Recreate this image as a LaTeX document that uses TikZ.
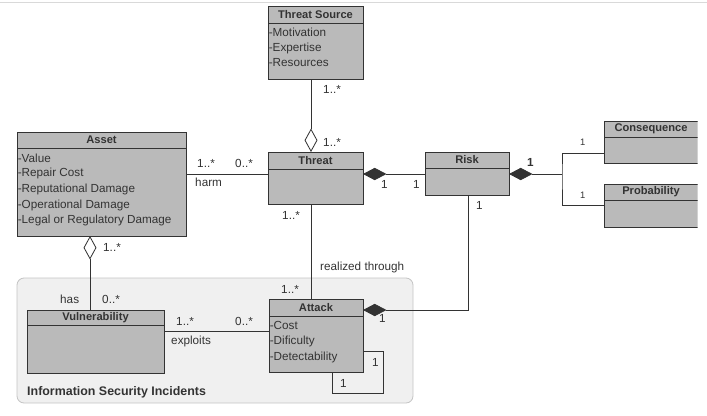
\documentclass[tikz,border=0pt]{standalone}
\usepackage{fontspec}
\setmainfont{Liberation Sans}
\usetikzlibrary{arrows.meta,fit}
\definecolor{umlink}{HTML}{333333}
\definecolor{umlfill}{HTML}{BABABA}
\definecolor{groupfill}{HTML}{F0F0F0}
\definecolor{groupline}{HTML}{C4C4C4}
\definecolor{frameline}{HTML}{D9D9D9}

\begin{document}
\begin{tikzpicture}[
  x=0.03cm,
  y=-0.03cm,
  every node/.style={font=\fontsize{10}{11}\selectfont, umlink},
  classbox/.style={draw=umlink, fill=umlfill, line width=0.6pt,
                   inner sep=0pt, outer sep=0pt},
  classline/.style={umlink, line width=0.6pt},
  classtitle/.style={font=\fontsize{9.5}{11}\selectfont\bfseries, inner sep=0pt},
  attr/.style={anchor=west, inner sep=0.5pt},
  mult/.style={anchor=west, inner sep=0pt},
  assoc/.style={umlink, line width=0.7pt},
  aggr/.style={assoc, -{Diamond[open, length=20pt, width=11pt]}},
  compo/.style={assoc, -{Diamond[length=20pt, width=10.5pt]}},
  groupbox/.style={draw=groupline, fill=groupfill, line width=0.7pt,
                   rounded corners=6pt, inner sep=0pt}
]
  \useasboundingbox (0,0) rectangle (707,415);
  \draw[frameline, line width=0.8pt] (0,2) -- (707,2);

  %% ---- 背景分組框 ------------------------------------------------------
  \node[groupbox, fit={(17,278) (413,403)}] (isi) {};
  \node[classtitle, anchor=west, font=\fontsize{10.6}{12}\selectfont\bfseries]
    (isi-t) at (27,392) {Information Security Incidents};

  %% ---- 各個類別方框 (右邊兩個在 x=697.6 處被裁掉) ----------------------
  \begin{scope}
    \clip (0,0) rectangle (697.6,415);
    \foreach \cname/\xa/\ya/\xb/\yb/\yh/\ctext in {
        src/268/6/363/79/23/Threat Source,
        asset/17/132/186/236/148/Asset,
        thr/268/152/363/204/169/Threat,
        risk/425/152/509/195/168/Risk,
        cons/604/121/698/163/137/Consequence,
        prob/604/184/698/227/200/Probability,
        vuln/27/310/164/373/325/Vulnerability,
        atk/269/299/363/372/316/Attack}
    {
      \node[classbox, fit={(\xa,\ya) (\xb,\yb)}] (\cname) {};
      \draw[classline] (\xa,\yh) -- (\xb,\yh);
      \node[classtitle] (\cname-t) at ({(\xa+\xb)/2},{(\ya+\yh)/2}) {\ctext};
    }
  \end{scope}

  %% ---- 屬性 ------------------------------------------------------------
  \foreach \y/\t [count=\i] in {32/Motivation, 48/Expertise, 63/Resources}
    \node[attr] (src-a\i) at (268,\y) {-\t};
  \foreach \y/\t [count=\i] in {158/Value, 173/Repair Cost,
      189/Reputational Damage, 205/Operational Damage,
      220/Legal or Regulatory Damage}
    \node[attr] (asset-a\i) at (17,\y) {-\t};
  \foreach \y/\t [count=\i] in {325/Cost, 341/Dificulty, 357/Detectability}
    \node[attr] (atk-a\i) at (269,\y) {-\t};

  %% ---- 連線 ------------------------------------------------------------
  \draw[aggr] (src.south -| 311,0) -- (thr.north -| 311,0);
  \draw[assoc] (asset.east |- 0,174) -- (thr.west |- 0,174);
  \draw[compo] (risk.west |- 0,174) -- (thr.east |- 0,174);

  \coordinate (fork) at (562,174);
  \draw[compo] (fork) -- (risk.east |- fork);
  \draw[assoc] (cons.west |- 0,153) -| (fork) |- (prob.west |- 0,205);

  \draw[aggr] (vuln.north -| 90,0) -- (asset.south -| 90,0);
  \draw[assoc] (vuln.east |- 0,331) -- (atk.west |- 0,331);
  \draw[assoc] (thr.south -| 311,0) -- (atk.north -| 311,0);
  \draw[compo] (risk.south -| 468,0) |- (atk.east |- 0,310);
  \draw[assoc] (atk.east |- 0,351) -| (383,393) -| (atk.south -| 332,0);

  %% ---- 多重性與角色標示 ------------------------------------------------
  \node[mult] (m-src1) at (323,89)  {1..*};
  \node[mult] (m-src2) at (323,142) {1..*};
  \node[mult] (m-harm1) at (197,163) {1..*};
  \node[mult] (m-harm2) at (235,163) {0..*};
  \node[mult] (l-harm) at (195,182) {harm};
  \node[mult] (m-tr1) at (381,184) {1};
  \node[mult] (m-tr2) at (413,184) {1};
  \node[mult] (m-thr) at (282,215) {1..*};
  \node[mult, font=\fontsize{10}{11}\selectfont\bfseries] (m-fork) at (527,162) {1};
  \node[mult, font=\fontsize{8}{9}\selectfont] (m-cons) at (580,142) {1};
  \node[mult, font=\fontsize{8}{9}\selectfont] (m-prob) at (580,195) {1};
  \node[mult] (m-risk) at (476,205) {1};
  \node[mult] (m-asset) at (103,247) {1..*};
  \node[mult] (l-has) at (60,299) {has};
  \node[mult] (m-vuln) at (102,299) {0..*};
  \node[mult] (m-ex1) at (176,321) {1..*};
  \node[mult] (m-ex2) at (235,321) {0..*};
  \node[mult] (l-ex) at (171,341) {exploits};
  \node[mult] (l-real) at (320,267) {realized through};
  \node[mult] (m-atk) at (281,289) {1..*};
  \node[mult] (m-ra) at (379,318) {1};
  \node[mult] (m-self1) at (372,362) {1};
  \node[mult] (m-self2) at (340,383) {1};
\end{tikzpicture}
\end{document}
